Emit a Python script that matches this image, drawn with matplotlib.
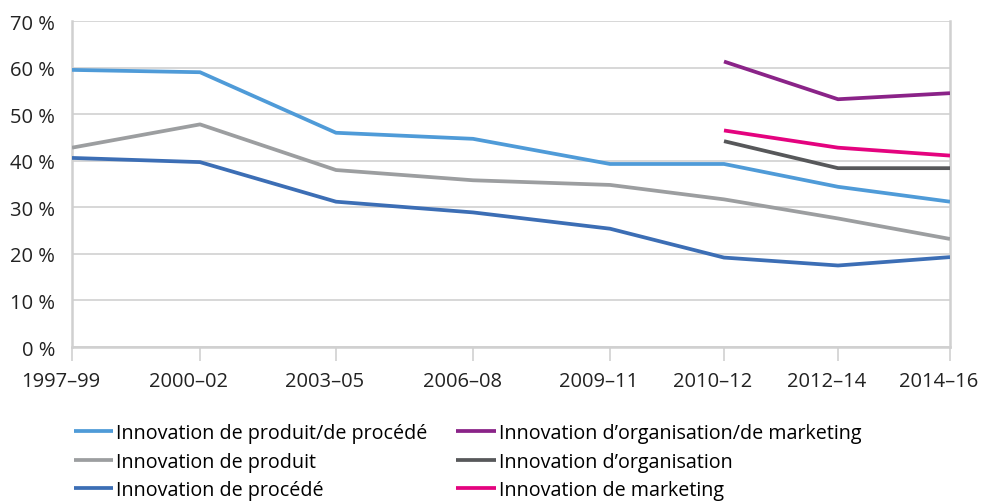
import matplotlib
matplotlib.use("Agg")
import matplotlib.pyplot as plt
import matplotlib.transforms as mtransforms
from matplotlib import font_manager

periods = ["1997–99", "2000–02", "2003–05", "2006–08", "2009–11", "2010–12", "2012–14", "2014–16"]
# horizontal placement of each period on the axis
period_pos = [0, 128, 264, 401, 538, 652, 766, 878]

prod_proc = [59.5, 59.0, 46.0, 44.7, 39.3, 39.3, 34.4, 31.2]
produit = [42.8, 47.8, 38.0, 35.8, 34.8, 31.7, 27.6, 23.2]
procede = [40.6, 39.7, 31.2, 28.9, 25.4, 19.2, 17.5, 19.3]

recent_periods = ["2010–12", "2012–14", "2014–16"]
org_mkt = [61.3, 53.2, 54.5]
organisation = [44.2, 38.4, 38.4]
marketing = [46.5, 42.8, 41.1]

yticks = [0, 10, 20, 30, 40, 50, 60, 70]

names = {f.name for f in font_manager.fontManager.ttflist}
tick_font = "Open Sans" if "Open Sans" in names else "DejaVu Sans"
legend_font = tick_font

fig = plt.figure(figsize=(9.84, 5.02), dpi=100)
ax = fig.add_axes([72 / 984, 1 - 348 / 502, (950 - 72) / 984, (348 - 22) / 502])

pos = dict(zip(periods, period_pos))
x_all = [pos[p] for p in periods]
x_recent = [pos[p] for p in recent_periods]

lw = 2.7
# listed column by column as they appear in the legend
series = [
    (x_all, prod_proc, "#4f9bd8", "Innovation de produit/de procédé"),
    (x_all, produit, "#9c9ea0", "Innovation de produit"),
    (x_all, procede, "#3c6eb5", "Innovation de procédé"),
    (x_recent, org_mkt, "#8a2388", "Innovation d’organisation/de marketing"),
    (x_recent, organisation, "#57585a", "Innovation d’organisation"),
    (x_recent, marketing, "#e4037f", "Innovation de marketing"),
]
handles = []
for xs, ys, c, lab in series:
    h, = ax.plot(xs, ys, color=c, lw=lw, label=lab, solid_capstyle="butt", zorder=3)
    handles.append(h)

ax.set_xlim(period_pos[0], period_pos[-1])
ax.set_ylim(0, 70)
ax.set_yticks(yticks)
ax.set_yticklabels([f"{v} %" for v in yticks], fontfamily=tick_font, fontsize=14.5, color="#222222")
ax.set_xticks(period_pos)
ax.set_xticklabels(periods, fontfamily=tick_font, fontsize=14.5, color="#222222")
ax.grid(axis="y", color="#d4d4d4", lw=1.3, zorder=0)
ax.tick_params(axis="y", length=0, pad=12)
ax.tick_params(axis="x", length=10, width=1.3, color="#d4d4d4", pad=7)
ax.spines["top"].set_visible(False)
for s in ["left", "right", "bottom"]:
    ax.spines[s].set_color("#d0d0d0")
    ax.spines[s].set_linewidth(1.8)

# period labels sit slightly left of their tick marks
shift = mtransforms.ScaledTranslation(-11 / 100, 0, fig.dpi_scale_trans)
for lbl in ax.get_xticklabels():
    lbl.set_transform(lbl.get_transform() + shift)

fig.legend(handles=handles, ncol=2, loc="upper left", bbox_to_anchor=(74 / 984, 1 - 424 / 502),
           frameon=False, prop={"family": legend_font, "size": 14.2}, handlelength=2.0,
           handletextpad=0.15, columnspacing=1.45, labelspacing=0.44, borderaxespad=0, borderpad=0)

fig.savefig("out.png", dpi=100)
